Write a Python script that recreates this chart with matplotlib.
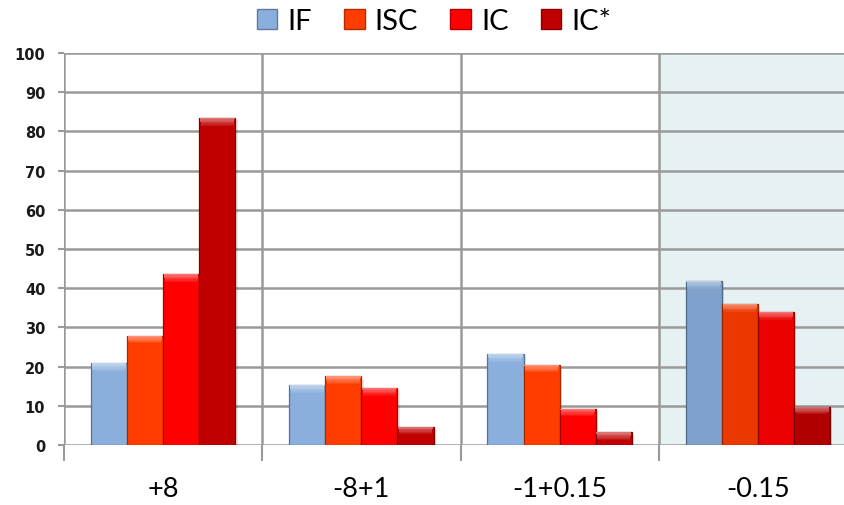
import matplotlib
matplotlib.use("Agg")
import matplotlib.pyplot as plt
import matplotlib.colors as mcolors
from matplotlib.patches import Patch
import numpy as np

# Data
categories = ["+8", "-8+1", "-1+0.15", "-0.15"]
series_names = ["IF", "ISC", "IC", "IC*"]
if_vals = [20.8, 15.3, 23.2, 41.9]
isc_vals = [27.9, 17.5, 20.5, 36.0]
ic_vals = [43.6, 14.6, 9.3, 34.0]
icstar_vals = [83.4, 4.7, 3.2, 9.8]
y_ticks = [0, 10, 20, 30, 40, 50, 60, 70, 80, 90, 100]
highlight_group = 3

series_values = [if_vals, isc_vals, ic_vals, icstar_vals]
series_colors = ["#8AAFDD", "#FF3D00", "#FF0000", "#C00000"]

plt.rcParams["font.family"] = ["Lato", "DejaVu Sans"]

fig = plt.figure(figsize=(8.44, 5.06), dpi=100)
W, H = 844, 506
left_px, right_px = 64, 857
bottom_px, top_px = 446, 54
ax = fig.add_axes([left_px / W, (H - bottom_px) / H,
                   (right_px - left_px) / W, (bottom_px - top_px) / H])

n_groups = len(categories)
x = np.arange(n_groups)
bar_w = 0.182
ax.set_xlim(-0.5, n_groups - 0.5)
ax.set_ylim(0, 100)

# shaded last category band
ax.axvspan(highlight_group - 0.5, highlight_group + 0.5, color="#E6F1F4", zorder=0)

grid_col = "#9A9A9A"
for t in y_ticks:
    ax.axhline(t, color=grid_col, lw=1.8, zorder=1)
for b in np.arange(n_groups + 1) - 0.5:
    ax.axvline(b, color=grid_col, lw=1.8, zorder=1)


def shade(c, f):
    r, g, b = mcolors.to_rgb(c)
    return (r * f, g * f, b * f)


def lighten(c, f):
    r, g, b = mcolors.to_rgb(c)
    return (r + (1 - r) * f, g + (1 - g) * f, b + (1 - b) * f)


offsets = (np.arange(len(series_names)) - 1.5) * bar_w
for si, (vals, col) in enumerate(zip(series_values, series_colors)):
    for gi, v in enumerate(vals):
        c = col
        if gi == highlight_group:
            c = shade(col, 0.92)
        xc = x[gi] + offsets[si]
        # drop shadow
        ax.bar(xc + 0.012, v, bar_w, bottom=-0.6, color="#000000", alpha=0.10,
               zorder=2, linewidth=0)
        ax.bar(xc, v, bar_w, color=c, edgecolor=shade(c, 0.65), linewidth=0.9,
               zorder=3)
        # bevelled top edge: a short gradient band
        band = 2.0
        steps = 6
        for k in range(steps):
            frac = k / steps
            seg_top = v - band * frac
            ax.bar(xc, band / steps, bar_w * (0.96 - 0.08 * frac),
                   bottom=seg_top - band / steps,
                   color=lighten(c, 0.45 * (1 - frac)), linewidth=0, zorder=4)

for s in ax.spines.values():
    s.set_visible(False)

ax.set_yticks(y_ticks)
ax.set_yticklabels([str(t) for t in y_ticks], fontsize=10.5, fontweight="bold",
                   color="#1a1a1a", family=["DejaVu Sans"])
ax.tick_params(axis="y", length=4.5, width=1.5, color=grid_col, pad=9)

ax.set_xticks(x)
ax.set_xticklabels(categories, fontsize=19.5, color="#000000")
ax.tick_params(axis="x", length=0, pad=22)
ax.set_xticks(np.arange(n_groups + 1) - 0.5, minor=True)
ax.tick_params(axis="x", which="minor", length=11.5, width=1.5, color=grid_col)

handles = [Patch(facecolor=c, edgecolor=shade(c, 0.7), label=n)
           for n, c in zip(series_names, series_colors)]
fig.legend(handles=handles, loc="center", bbox_to_anchor=(434 / W, 1 - 22 / H),
           ncol=4, frameon=False, fontsize=21, handlelength=0.7,
           handleheight=0.7, handletextpad=0.35, columnspacing=1.1)

fig.savefig("out.png", dpi=100)
